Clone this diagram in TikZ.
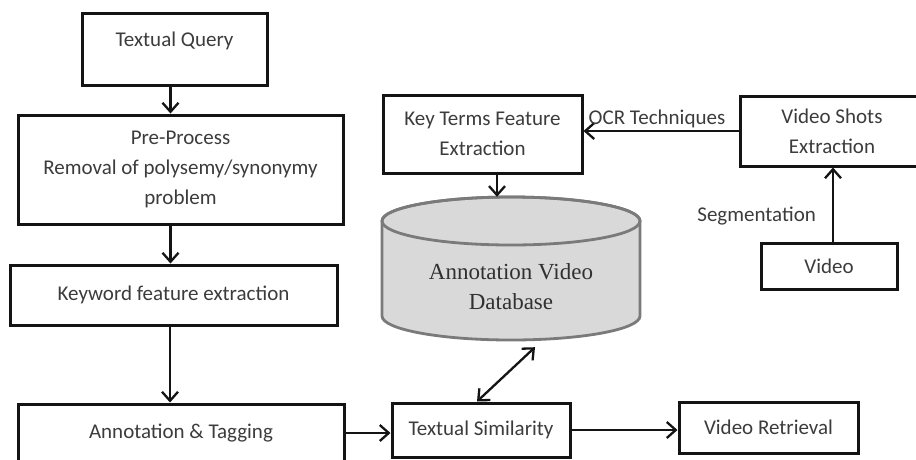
\documentclass[tikz,border=0pt]{standalone}
\usepackage{fontspec}
\setmainfont{Carlito}
\newfontfamily\dbfont{Liberation Serif}
\usetikzlibrary{arrows.meta}
\definecolor{ink}{HTML}{141414}
\definecolor{txt}{HTML}{3C3C3C}
\definecolor{dbfill}{HTML}{D9D9D9}
\definecolor{dbline}{HTML}{7A7A7A}
\tikzset{
  box/.style={draw=ink, line width=3pt, rectangle, align=center, text=txt,
    font=\fontsize{21}{30}\selectfont, inner sep=2pt},
  arr/.style={draw=ink, line width=2.3pt, -{Straight Barb[length=9pt,width=16pt]}},
  twoway/.style={draw=ink, line width=2.3pt,
    {Straight Barb[length=9pt,width=16pt]}-{Straight Barb[length=9pt,width=16pt]}},
  lbl/.style={text=txt, font=\fontsize{21}{30}\selectfont, inner sep=2pt},
  dbtext/.style={text=txt!80!black, font=\dbfont\fontsize{23}{30}\selectfont, align=center},
}
\begin{document}
\begin{tikzpicture}[x=1pt,y=-1pt]
\path[use as bounding box, fill=white] (0,0) rectangle (916,459);
\clip (0,0) rectangle (916,459);

% query side
\node[box, minimum width=185pt, minimum height=72pt, text depth=20pt] (tq) at (174.5,49) {Textual Query};
\node[box, minimum width=325pt, minimum height=109pt] (pp) at (180.5,169.5)
  {Pre-Process\\Removal of polysemy/synonymy\\problem};
\node[box, minimum width=327pt, minimum height=60pt] (kw) at (173.5,295) {Keyword feature extraction};
\node[box, minimum width=326pt, minimum height=58pt] (at) at (181,433) {Annotation \& Tagging};

% matching and retrieval
\node[box, minimum width=178pt, minimum height=54pt] (ts) at (481,430) {Textual Similarity};
\node[box, minimum width=179pt, minimum height=51pt] (vr) at (768.5,427.5) {Video Retrieval};

% video side
\node[box, minimum width=199pt, minimum height=78pt] (kt) at (482.5,134) {Key Terms Feature\\Extraction};
\node[box, minimum width=184pt, minimum height=70pt] (vs) at (832,131) {Video Shots\\Extraction};
\node[box, minimum width=136pt, minimum height=46pt] (vid) at (829,266) {Video};

% database cylinder
\path[fill=dbfill, draw=dbline, line width=2.8pt]
  (382,221) -- (382,316) arc[start angle=180, end angle=360, x radius=129pt, y radius=24pt]
  -- (640,221) arc[start angle=0, end angle=180, x radius=129pt, y radius=24pt] -- cycle;
\draw[dbline, line width=2.8pt] (511,221) ellipse[x radius=129pt, y radius=24pt];
\node[dbtext, minimum width=258pt, minimum height=143pt, inner sep=0pt, text height=82pt] (db) at (511,268.5)
  {Annotation Video\\Database};

% connectors
\draw[arr] ([xshift=-4pt]tq.south) -- ([xshift=-4pt]tq.south |- pp.north);
\draw[arr] ([xshift=-10pt]pp.south) -- ([xshift=-10pt]pp.south |- kw.north);
\draw[arr] ([xshift=-3.5pt]kw.south) -- ([xshift=-3.5pt]kw.south |- at.north);
\draw[arr] (at.east) -- (at.east -| ts.west);
\draw[arr] (ts.east) -- (ts.east -| vr.west);
\draw[arr] (vs.west) -- (vs.west -| kt.east)
  node[lbl, midway, above, xshift=-4pt] {OCR Techniques};
\draw[arr] ([xshift=4pt]vid.north) -- ([xshift=4pt]vid.north |- vs.south)
  node[lbl, pos=0.35, left=14pt] {Segmentation};
\draw[arr] ([xshift=14.5pt]kt.south) -- ([xshift=14.5pt]kt.south |- db.north);
\draw[twoway] ([shift={(24pt,-7pt)}]db.south) -- ([xshift=-4pt]ts.north);
\end{tikzpicture}
\end{document}
